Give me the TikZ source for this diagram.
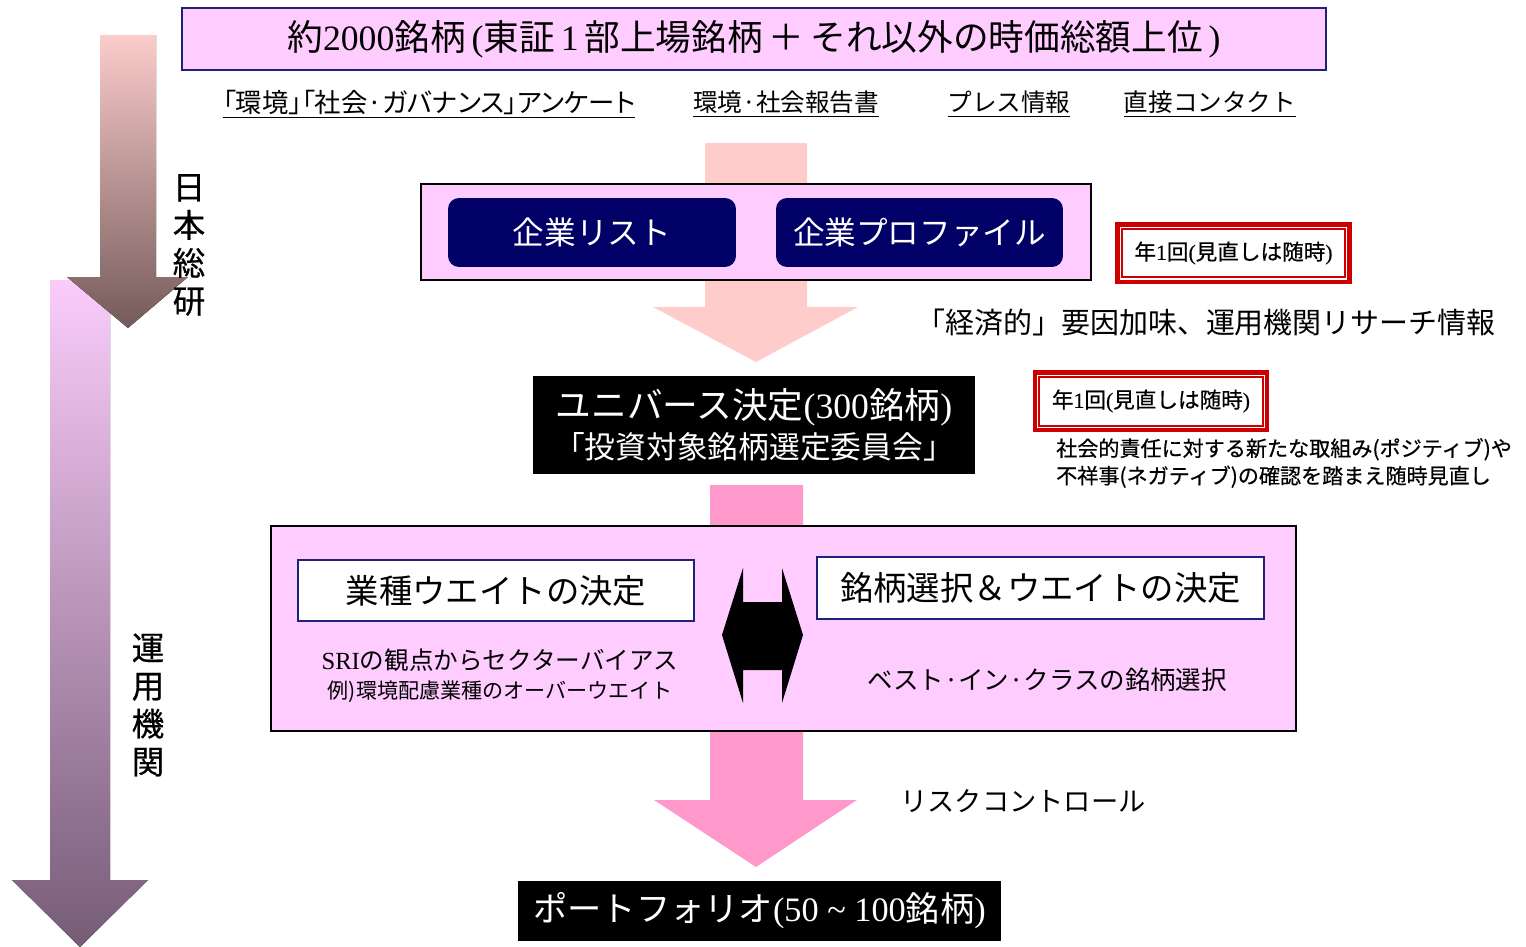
\documentclass[tikz,border=0pt]{standalone}
\usepackage{fontspec}
\setmainfont{Noto Sans CJK JP}
\newfontfamily\ser{Liberation Serif}
\newfontfamily\pfam[RawFeature=+palt]{Noto Sans CJK JP}
\newfontfamily\medfam[FakeBold=0.6]{Noto Sans CJK JP}
\newfontfamily\medser[FakeBold=0.4]{Liberation Serif}
\usetikzlibrary{calc}
\definecolor{lpink}{RGB}{255,204,255}
\definecolor{navy}{RGB}{0,0,102}
\definecolor{navyline}{RGB}{32,32,120}
\definecolor{salmon}{RGB}{255,204,204}
\definecolor{hotpink}{RGB}{255,153,204}
\definecolor{redb}{RGB}{204,0,0}
\definecolor{aOneTop}{RGB}{252,204,204}
\definecolor{aOneBot}{RGB}{116,90,90}
\definecolor{aTwoTop}{RGB}{250,204,250}
\definecolor{aTwoBot}{RGB}{118,92,118}
\newcommand{\fs}[1]{\fontsize{#1}{#1}\selectfont}
\tikzset{
  pinkbox/.style={draw=black, line width=0.03cm, fill=lpink, inner sep=0pt},
  navybox/.style={fill=navy, rounded corners=0.22cm, inner sep=0pt, text=white, font=\fs{18}},
  whitebox/.style={draw=navyline, line width=0.03cm, fill=white, inner sep=0pt, font=\fs{19}},
  blackbox/.style={fill=black, inner sep=0pt, text=white},
  redbox/.style={draw=redb, line width=0.09cm, fill=white, inner sep=0pt,
    minimum width=4.65cm, minimum height=1.15cm, font=\medfam\fs{12.3}},
  redinner/.style={draw=redb, line width=0.04cm},
  vtext/.style={align=center, font=\medfam\fontsize{18.5}{21.6}\selectfont},
  linktext/.style={font=\fs{14}},
}
\begin{document}
\begin{tikzpicture}[x=0.02cm,y=-0.02cm]
\useasboundingbox (0,0) rectangle (1526,947);

% side gradient arrows
\fill[top color=aTwoTop, bottom color=aTwoBot]
  (50,280) -- (110,280) -- (110,880) -- (148,880) -- (80,947) -- (12,880) -- (50,880) -- cycle;
\fill[top color=aOneTop, bottom color=aOneBot]
  (100,35) -- (156,35) -- (156,277) -- (188,277) -- (128,328) -- (67,277) -- (100,277) -- cycle;
\node[vtext] (nsk) at (189,245) {日\\本\\総\\研};
\node[vtext] (unyo) at (148,705) {運\\用\\機\\関};

% title
\node[draw=navyline, line width=0.04cm, fill=lpink, inner sep=0pt,
  minimum width=22.88cm, minimum height=1.24cm, font=\fs{20.3}] (title) at (754,39)
  {約{\ser 2000}銘柄{\ser\,(}東証{\ser\,1\,}部上場銘柄\,＋\,それ以外の時価総額上位{\ser\,)}};

% source links
\node[linktext] (l1) at (429,104) {\underline{\pfam\fontsize{15}{15}\selectfont 「環境」「社会·ガバナンス」アンケート}};
\node[linktext] (l2) at (786,104) {\underline{環境·社会報告書}};
\node[linktext] (l3) at (1009,104) {\underline{プレス情報}};
\node[linktext] (l4) at (1210,104) {\underline{直接コンタクト}};

% pink arrow 1
\fill[salmon] (705,143) -- (807,143) -- (807,307) -- (858,307) -- (756,362) -- (653,307) -- (705,307) -- cycle;

% box 2
\node[pinkbox, minimum width=13.4cm, minimum height=1.92cm] (box2) at (756,232) {};
\node[navybox, minimum width=5.76cm, minimum height=1.38cm] (list) at (592,232.5) {企業リスト};
\node[navybox, minimum width=5.74cm, minimum height=1.38cm] (prof) at (919.5,232.5) {企業プロファイル};

% red boxes
\node[redbox] (r1) at (1233.5,253) {年{\medser 1}回{\medser (}見直しは随時{\medser )}};
\draw[redinner] ($(r1.north west)+(6.5,6.5)$) rectangle ($(r1.south east)+(-6.5,-6.5)$);
\node[redbox] (r2) at (1151,401) {年{\medser 1}回{\medser (}見直しは随時{\medser )}};
\draw[redinner] ($(r2.north west)+(6.5,6.5)$) rectangle ($(r2.south east)+(-6.5,-6.5)$);

\node[font=\fs{16.5}] (econ) at (1206,323) {「経済的」要因加味、運用機関リサーチ情報};
\node[font=\medfam\fontsize{12}{15.6}\selectfont, align=left, anchor=west] (note) at (1050,463)
  {社会的責任に対する新たな取組み(ポジティブ)や\\不祥事(ネガティブ)の確認を踏まえ随時見直し};

% universe
\node[blackbox, minimum width=8.84cm, minimum height=1.96cm, align=center] (univ) at (754,425)
  {\fontsize{20.3}{24}\selectfont ユニバース決定{\ser (300}銘柄{\ser )}\\[3pt]
   \fontsize{17.5}{22}\selectfont 「投資対象銘柄選定委員会」};

% pink arrow 2
\fill[hotpink] (710,485) -- (803,485) -- (803,800) -- (857,800) -- (756,867) -- (654,800) -- (710,800) -- cycle;

% box 3
\node[pinkbox, minimum width=20.5cm, minimum height=4.1cm] (box3) at (783.5,628.5) {};
\node[whitebox, minimum width=7.92cm, minimum height=1.22cm] (wa) at (496,590.5) {業種ウエイトの決定};
\node[whitebox, minimum width=8.94cm, minimum height=1.24cm] (wb) at (1040.5,588) {銘柄選択＆ウエイトの決定};
\node[font=\fs{14}] (sri) at (500,660) {{\ser SRI}の観点からセクターバイアス};
\node[font=\fs{12}] (ex) at (500,692) {例)環境配慮業種のオーバーウエイト};
\node[font=\fs{14.5}] (bic) at (1047,680) {ベスト·イン·クラスの銘柄選択};
\fill[black] (743,568) -- (743,602) -- (782,602) -- (782,568) -- (803,635) -- (782,703)
  -- (782,670) -- (743,670) -- (743,703) -- (722,635) -- cycle;

\node[font=\fs{15.5}] (risk) at (1023,801) {リスクコントロール};

% portfolio
\node[blackbox, minimum width=9.66cm, minimum height=1.2cm, font=\fs{19.5}] (port) at (759.5,911)
  {ポートフォリオ{\ser (50 \textasciitilde\ 100}銘柄{\ser )}};
\end{tikzpicture}
\end{document}
